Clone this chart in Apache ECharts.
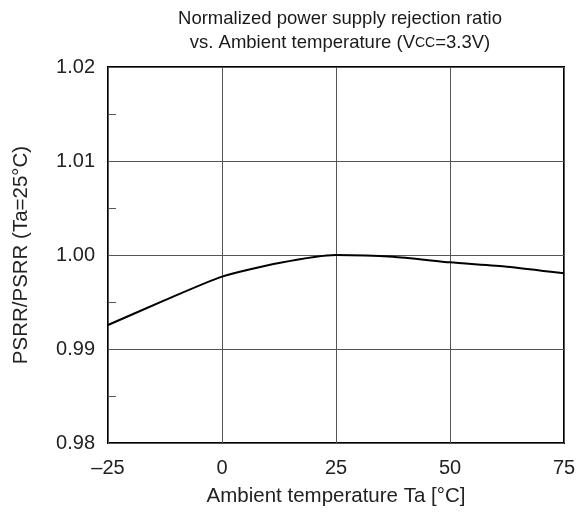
<!DOCTYPE html>
<html>
<head>
<meta charset="utf-8">
<script src="https://cdn.jsdelivr.net/npm/echarts@6/dist/echarts.min.js"></script>
<style>
  html, body { margin: 0; padding: 0; background: #fff; }
  #chart { width: 585px; height: 514px; }
</style>
</head>
<body>
<div id="chart"></div>
<script>
// ambient temperature (°C) and normalized PSRR
var temps = [-25, -12.5, 0, 12.5, 25, 37.5, 50, 62.5, 75];
var psrr = [0.99255, 0.99520, 0.99770, 0.99915, 1.00000, 0.99982, 0.99922, 0.99876, 0.99805];
var xTicks = [-25, 0, 25, 50, 75];
var yTicks = [0.98, 0.99, 1.00, 1.01, 1.02];

var font = 'Liberation Sans, Arial, sans-serif';
var chart = echarts.init(document.getElementById('chart'));

chart.setOption({
  animation: false,
  title: {
    text: 'Normalized power supply rejection ratio\nvs. Ambient temperature (V{s|CC}=3.3V)',
    left: 335,
    top: 2,
    textAlign: 'center',
    textStyle: {
      fontFamily: font, fontSize: 18.5, fontWeight: 'normal', color: '#1a1a1a',
      lineHeight: 24,
      rich: {s: {fontFamily: font, fontSize: 14, color: '#1a1a1a', lineHeight: 24}}
    }
  },
  grid: {
    left: 108, right: 21, top: 67, bottom: 71,
    show: true, borderColor: '#000', borderWidth: 2
  },
  xAxis: {
    type: 'value',
    min: -25, max: 75, interval: 25,
    name: 'Ambient temperature Ta [°C]',
    nameLocation: 'middle',
    nameGap: 43,
    nameTextStyle: {fontFamily: font, fontSize: 20.5, color: '#222'},
    axisLine: {show: false, onZero: false},
    axisTick: {show: false},
    axisLabel: {
      fontFamily: font, fontSize: 20, color: '#222', margin: 15,
      formatter: function(v) {
        return v < 0 ? '\u2013' + Math.abs(v) : String(v);
      }
    },
    splitLine: {show: true, lineStyle: {color: '#555', width: 1}}
  },
  yAxis: {
    type: 'value',
    min: 0.98, max: 1.02, interval: 0.01,
    name: 'PSRR/PSRR (Ta=25°C)',
    nameLocation: 'middle',
    nameGap: 76,
    nameTextStyle: {fontFamily: font, fontSize: 20.5, color: '#222'},
    axisLine: {show: false, onZero: false},
    axisTick: {show: false, inside: true},
    minorTick: {show: true, splitNumber: 2, length: 8, lineStyle: {color: '#555', width: 1}},
    axisLabel: {
      fontFamily: font, fontSize: 20, color: '#222', margin: 13,
      formatter: function(v) { return v.toFixed(2); }
    },
    splitLine: {show: true, lineStyle: {color: '#555', width: 1}}
  },
  series: [{
    type: 'line',
    data: temps.map(function(t, i) { return [t, psrr[i]]; }),
    showSymbol: false,
    smooth: 0.2,
    lineStyle: {color: '#000', width: 2}
  }]
});
</script>
</body>
</html>
